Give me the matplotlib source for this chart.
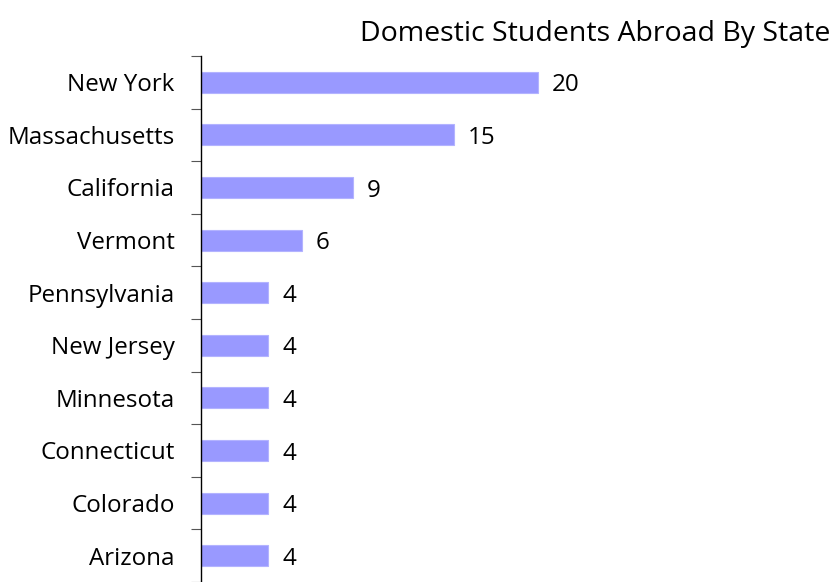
import matplotlib
matplotlib.use("Agg")
import matplotlib.pyplot as plt

states = ["New York", "Massachusetts", "California", "Vermont", "Pennsylvania",
          "New Jersey", "Minnesota", "Connecticut", "Colorado", "Arizona"]
counts = [20, 15, 9, 6, 4, 4, 4, 4, 4, 4]
title = "Domestic Students Abroad By State"

plt.rcParams['font.family'] = ['Open Sans', 'DejaVu Sans']

W, H = 833, 582
fig = plt.figure(figsize=(W / 100, H / 100), dpi=100)
ax = fig.add_axes([201 / W, 0 / H, 600 / W, 526 / H])

n = len(states)
ypos = list(range(n))
ax.barh(ypos, counts, height=0.4, color="#9999FF", edgecolor="#B3B3FF", linewidth=0.8)
ax.set_ylim(n - 0.5, -0.5)
ax.set_xlim(0, 600 / 16.85)

FS = 17.4
for y, v in zip(ypos, counts):
    ax.annotate(str(v), xy=(v, y), xytext=(10, -2.2), textcoords="offset points",
                va="center", ha="left", fontsize=FS, color="black")

ax.set_yticks(ypos)
ax.set_yticklabels(states, fontsize=FS)
ax.set_yticks([i - 0.5 for i in range(n + 1)], minor=True)
ax.tick_params(axis="y", which="major", length=0, pad=19)
ax.tick_params(axis="y", which="minor", length=7, width=0.8, color="#555555")
ax.set_xticks([])
for s in ["top", "right", "bottom"]:
    ax.spines[s].set_visible(False)
ax.spines["left"].set_color("black")
ax.spines["left"].set_linewidth(1.0)

fig.text(830 / W, 1 - 34 / H, title, ha="right", va="center", fontsize=20.5)

fig.savefig("out.png", dpi=100)
